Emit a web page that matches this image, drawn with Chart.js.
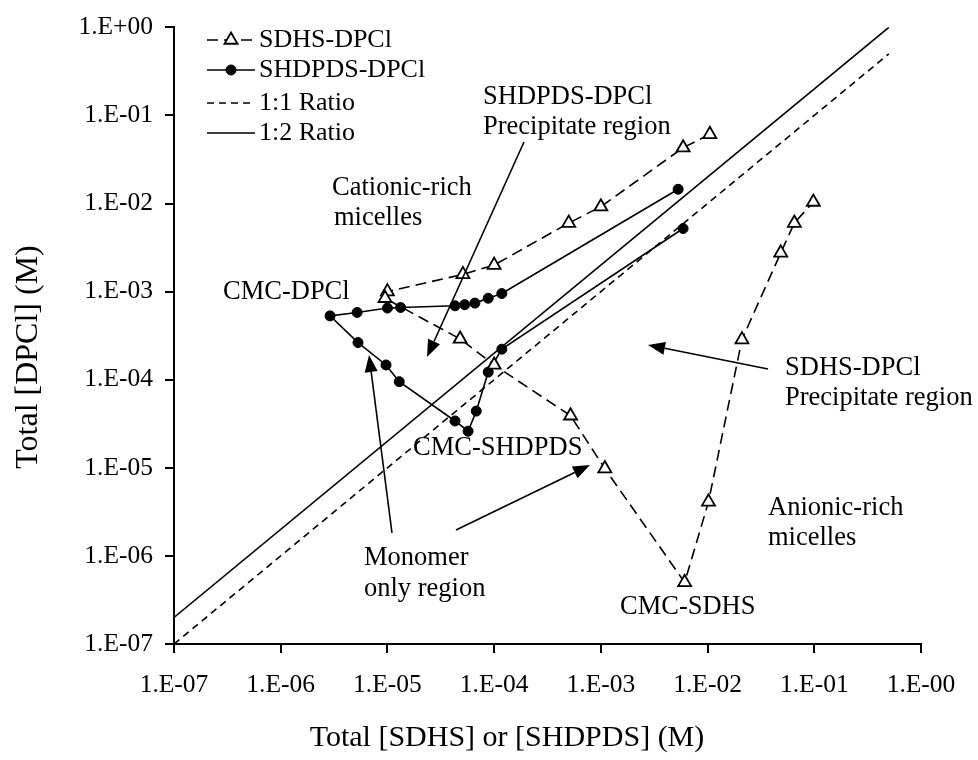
<!DOCTYPE html>
<html><head><meta charset="utf-8">
<script src="https://cdn.jsdelivr.net/npm/chart.js@4/dist/chart.umd.min.js"></script>
<style>html,body{margin:0;padding:0;background:#fff;}</style>
</head><body>
<canvas id="c" width="978" height="760"></canvas>
<script>
// ---- data ----
const sdhsX = [1.05e-2, 5.9e-3, 1.0e-3, 5.0e-4, 1.0e-4, 5.1e-5, 1.0e-5, 9.5e-6, 4.8e-5, 1.0e-4, 5.2e-4, 1.09e-3, 6.1e-3, 1.02e-2, 2.1e-2, 4.85e-2, 6.5e-2, 9.8e-2];
const sdhsY = [6.1e-2, 4.3e-2, 9.2e-3, 6.0e-3, 2.0e-3, 1.57e-3, 1.0e-3, 8.4e-4, 2.9e-4, 1.47e-4, 3.9e-5, 9.8e-6, 5.0e-7, 4.1e-6, 2.85e-4, 2.75e-3, 6.0e-3, 1.04e-2];
const shdpdsX = [5.3e-3, 1.18e-4, 8.8e-5, 6.6e-5, 5.3e-5, 4.3e-5, 1.33e-5, 1.0e-5, 5.2e-6, 2.9e-6, 5.3e-6, 9.7e-6, 1.29e-5, 4.3e-5, 5.7e-5, 6.8e-5, 8.8e-5, 1.18e-4, 5.9e-3];
const shdpdsY = [1.45e-2, 9.5e-4, 8.4e-4, 7.4e-4, 7.1e-4, 6.9e-4, 6.6e-4, 6.5e-4, 5.8e-4, 5.3e-4, 2.64e-4, 1.47e-4, 9.5e-5, 3.4e-5, 2.6e-5, 4.4e-5, 1.22e-4, 2.22e-4, 5.2e-3];
const ratio11X = [1e-7, 0.5];
const ratio11Y = [1e-7, 0.5];
const ratio12X = [1e-7, 0.5];
const ratio12Y = [2e-7, 1.0];
const tickValues = [1e-7, 1e-6, 1e-5, 1e-4, 1e-3, 1e-2, 1e-1, 1];
const xTickLabels = ['1.E-07','1.E-06','1.E-05','1.E-04','1.E-03','1.E-02','1.E-01','1.E-00'];
const yTickLabels = ['1.E-07','1.E-06','1.E-05','1.E-04','1.E-03','1.E-02','1.E-01','1.E+00'];
const seriesNames = ['SDHS-DPCl','SHDPDS-DPCl','1:1 Ratio','1:2 Ratio'];
const xTitle = 'Total [SDHS] or [SHDPDS] (M)';
const yTitle = 'Total [DPCl] (M)';

const pts = (xs, ys) => xs.map((x, i) => ({x: x, y: ys[i]}));
const FONT = 'Liberation Serif, Times New Roman, serif';
Chart.defaults.color = '#000';
Chart.defaults.font.family = FONT;

const tickIndex = v => Math.round(Math.log10(v)) + 7;

const annotations = {
  id: 'annotations',
  afterDraw(chart) {
    const ctx = chart.ctx;
    ctx.save();
    ctx.fillStyle = '#000';
    ctx.strokeStyle = '#000';
    ctx.textBaseline = 'middle';
    ctx.textAlign = 'left';
    ctx.font = '26.5px ' + FONT;
    const texts = [
      ['SHDPDS-DPCl', 483, 97], ['Precipitate region', 483, 127],
      ['Cationic-rich', 332, 188], ['micelles', 334, 218],
      ['CMC-DPCl', 223, 292],
      ['CMC-SHDPDS', 413, 448],
      ['Monomer', 364, 558], ['only region', 364, 589],
      ['SDHS-DPCl', 785, 368], ['Precipitate region', 785, 398],
      ['Anionic-rich', 768, 508], ['micelles', 768, 538],
      ['CMC-SDHS', 620, 607]
    ];
    texts.forEach(t => ctx.fillText(t[0], t[1], t[2]));

    const arrow = (x1, y1, x2, y2) => {
      const a = Math.atan2(y2 - y1, x2 - x1);
      const L = 17, W = 6.5;
      const bx = x2 - L * Math.cos(a), by = y2 - L * Math.sin(a);
      ctx.lineWidth = 1.6;
      ctx.setLineDash([]);
      ctx.beginPath(); ctx.moveTo(x1, y1); ctx.lineTo(bx, by); ctx.stroke();
      ctx.beginPath();
      ctx.moveTo(x2, y2);
      ctx.lineTo(bx + W * Math.sin(a), by - W * Math.cos(a));
      ctx.lineTo(bx - W * Math.sin(a), by + W * Math.cos(a));
      ctx.closePath(); ctx.fill();
    };
    arrow(524, 142, 427, 357);
    arrow(392, 533, 369, 355);
    arrow(456, 530, 590, 465);
    arrow(768, 369, 648, 345);

    // legend
    const rows = [40, 70, 103, 133];
    chart.data.datasets.forEach((ds, i) => {
      const y = rows[i];
      ctx.lineWidth = ds.borderWidth;
      ctx.strokeStyle = '#000';
      ctx.setLineDash(ds.borderDash || []);
      ctx.beginPath(); ctx.moveTo(207, y); ctx.lineTo(255, y); ctx.stroke();
      ctx.setLineDash([]);
      if (ds.pointRadius > 0) {
        ctx.fillStyle = ds.pointBackgroundColor;
        ctx.strokeStyle = ds.pointBorderColor;
        ctx.lineWidth = ds.pointBorderWidth;
        ctx.beginPath();
        if (ds.pointStyle === 'triangle') {
          const r = ds.pointRadius;
          let rad = 0;
          ctx.moveTo(231 + Math.sin(rad) * r, y - Math.cos(rad) * r);
          rad += 2 * Math.PI / 3;
          ctx.lineTo(231 + Math.sin(rad) * r, y - Math.cos(rad) * r);
          rad += 2 * Math.PI / 3;
          ctx.lineTo(231 + Math.sin(rad) * r, y - Math.cos(rad) * r);
          ctx.closePath();
        } else {
          ctx.arc(231, y, ds.pointRadius, 0, Math.PI * 2);
        }
        ctx.fill(); ctx.stroke();
      }
      ctx.fillStyle = '#000';
      ctx.font = '26px ' + FONT;
      ctx.fillText(seriesNames[i], 259, y);
    });

    // axis titles
    ctx.font = '30px ' + FONT;
    ctx.textAlign = 'center';
    ctx.fillText(xTitle, 507, 738);
    ctx.font = '32px ' + FONT;
    ctx.translate(29, 357);
    ctx.rotate(-Math.PI / 2);
    ctx.fillText(yTitle, 0, 0);
    ctx.restore();
  }
};

new Chart(document.getElementById('c'), {
  type: 'scatter',
  data: {
    datasets: [
      { label: seriesNames[0], data: pts(sdhsX, sdhsY), showLine: true,
        borderColor: '#000', borderWidth: 1.6, borderDash: [11, 6],
        pointStyle: 'triangle', pointRadius: 7.5, pointBorderWidth: 1.8,
        pointBackgroundColor: '#fff', pointBorderColor: '#000' },
      { label: seriesNames[1], data: pts(shdpdsX, shdpdsY), showLine: true,
        borderColor: '#000', borderWidth: 1.6,
        pointStyle: 'circle', pointRadius: 5, pointBorderWidth: 1,
        pointBackgroundColor: '#000', pointBorderColor: '#000' },
      { label: seriesNames[2], data: pts(ratio11X, ratio11Y), showLine: true,
        borderColor: '#000', borderWidth: 1.6, borderDash: [7, 5], pointRadius: 0 },
      { label: seriesNames[3], data: pts(ratio12X, ratio12Y), showLine: true,
        borderColor: '#000', borderWidth: 1.6, pointRadius: 0 }
    ]
  },
  options: {
    responsive: false,
    animation: false,
    devicePixelRatio: 1,
    layout: { padding: { left: 0, right: 57, top: 20, bottom: 0 } },
    plugins: { legend: { display: false }, tooltip: { enabled: false } },
    elements: { line: { tension: 0 } },
    scales: {
      x: {
        type: 'logarithmic', position: 'bottom', min: 1e-7, max: 1,
        afterBuildTicks: s => { s.ticks = tickValues.map(v => ({ value: v, major: true })); },
        afterFit: s => { s.height = 116; },
        ticks: { callback: v => xTickLabels[tickIndex(v)], font: { size: 25.5, family: FONT }, color: '#000', padding: 17, maxRotation: 0, autoSkip: false },
        grid: { drawOnChartArea: false, drawTicks: true, tickLength: 9, color: '#000', lineWidth: 2 },
        border: { display: true, color: '#000', width: 2 }
      },
      y: {
        type: 'logarithmic', position: 'left', min: 1e-7, max: 1,
        afterBuildTicks: s => { s.ticks = tickValues.map(v => ({ value: v, major: true })); },
        afterFit: s => { s.width = 174; },
        ticks: { callback: v => yTickLabels[tickIndex(v)], font: { size: 25.5, family: FONT }, color: '#000', padding: 12, autoSkip: false },
        grid: { drawOnChartArea: false, drawTicks: true, tickLength: 9, color: '#000', lineWidth: 2 },
        border: { display: true, color: '#000', width: 2 }
      }
    }
  },
  plugins: [annotations]
});
</script>
</body></html>
